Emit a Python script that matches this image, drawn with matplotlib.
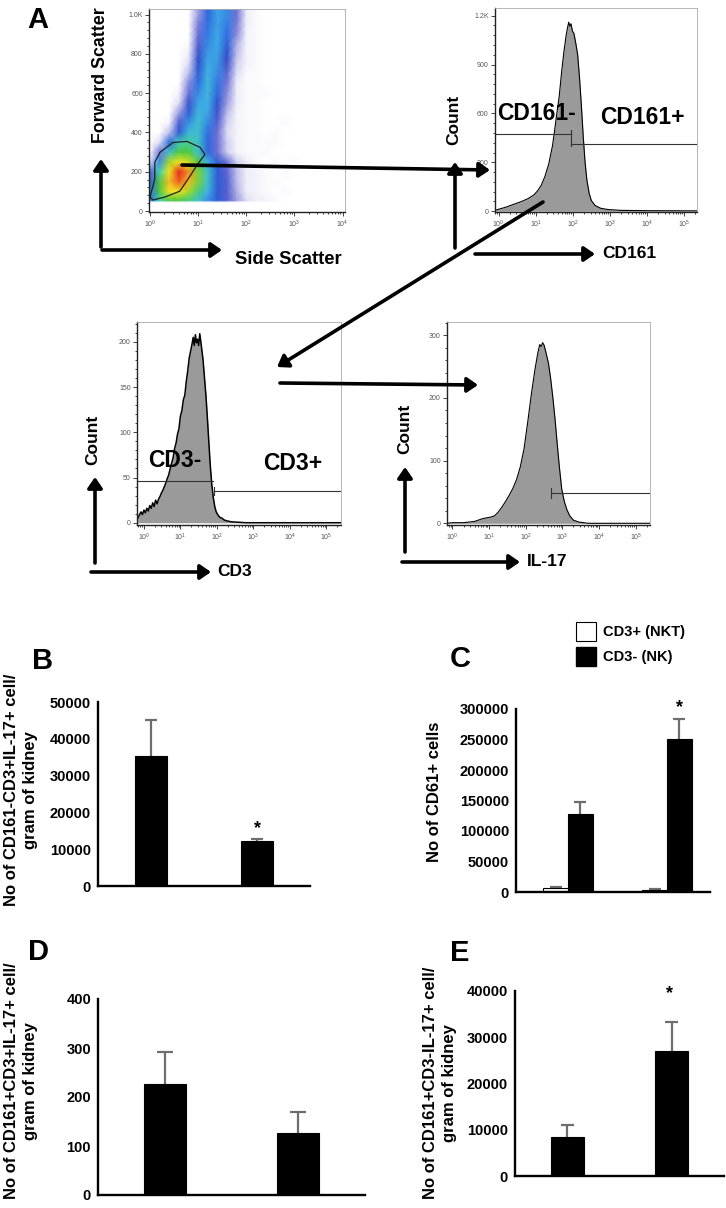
"""Flow gating (A) and kidney NK / NKT cell counts (B-E)."""

import matplotlib

matplotlib.use("Agg")
import matplotlib.pyplot as plt
import numpy as np
from matplotlib.colors import LinearSegmentedColormap
from matplotlib.patches import FancyArrowPatch, Patch
from matplotlib.ticker import AutoMinorLocator, LogLocator, NullFormatter

plt.rcParams["font.family"] = ["Liberation Sans", "DejaVu Sans"]

W, H = 726, 1208

# ---- panel A: side / forward scatter density (pseudocolour), log10 SSC x FSC ----
ssc_log = [0.0, 0.2, 0.4, 0.6, 0.8, 1.0, 1.2, 1.4, 1.6, 1.8, 2.0,
           2.2, 2.4, 2.6, 2.8, 3.0, 3.2, 3.4, 3.6, 3.8, 4.0]
fsc_levels = [45, 55, 100, 150, 200, 250, 300, 350, 400, 450, 500,
              550, 600, 650, 700, 750, 800, 850, 900, 950, 1000, 1050]
density = [
    [0] * 21,
    [3, 5, 6, 6, 5.5, 4.5, 3.5, 2.5, 1.5, .8, .4, .3, .2, .1, 0, 0, 0, 0, 0, 0, 0],
    [3, 6, 8, 8, 7, 5.5, 4, 2.5, 1.5, .7, .3, .2, .1, 0, .1, 0, 0, 0, 0, 0, 0],
    [2.5, 6, 8.5, 9.5, 8.5, 6.5, 4.5, 2.5, 1.5, .6, .3, .2, .1, .1, 0, 0, 0, 0, 0, 0, 0],
    [1.5, 5, 8, 10, 9, 6.5, 4.5, 2.5, 1.4, .6, .3, .2, .1, 0, .1, 0, 0, 0, 0, 0, 0],
    [.5, 3.5, 7, 8, 7.5, 6, 4, 2.5, 1.2, .5, .3, .1, 0, .1, 0, .1, 0, 0, 0, 0, 0],
    [0, 1.2, 4.5, 6, 6, 4.6, 2.8, 1.2, .5, .2, .1, .1, .1, 0, 0, 0, 0, 0, 0, 0, 0],
    [0, .4, 2.8, 4.8, 5.2, 4.5, 2.8, 1.2, .5, .2, .1, .1, .1, .1, 0, 0, 0, 0, 0, 0, 0],
    [0, 0, .6, 2.5, 4.2, 4.4, 3, 1.2, .4, .2, .1, .1, 0, .1, 0, 0, 0, 0, 0, 0, 0],
    [0, 0, .2, 1.6, 3.5, 4.4, 3.4, 1.5, .5, .2, .1, .1, 0, 0, .1, 0, 0, 0, 0, 0, 0],
    [0, 0, 0, .8, 2.6, 4.2, 3.8, 1.8, .6, .2, .1, .1, 0, 0, 0, 0, 0, 0, 0, 0, 0],
    [0, 0, 0, .4, 1.8, 3.8, 4, 2.3, .8, .3, .1, .1, 0, 0, 0, 0, 0, 0, 0, 0, 0],
    [0, 0, 0, .2, 1.2, 3.4, 4.2, 2.8, .9, .3, .1, .1, .1, 0, 0, 0, 0, 0, 0, 0, 0],
    [0, 0, 0, 0, .9, 3, 4.2, 3.1, 1.1, .3, .1, .1, 0, 0, 0, 0, 0, 0, 0, 0, 0],
    [0, 0, 0, 0, .6, 2.6, 4.1, 3.4, 1.4, .4, .1, .1, 0, 0, 0, 0, 0, 0, 0, 0, 0],
    [0, 0, 0, 0, .4, 2.2, 3.9, 3.6, 1.8, .5, .2, .1, 0, 0, 0, 0, 0, 0, 0, 0, 0],
    [0, 0, 0, 0, .3, 1.8, 3.7, 3.8, 2.2, .6, .2, .1, 0, 0, 0, 0, 0, 0, 0, 0, 0],
    [0, 0, 0, 0, .1, 1.5, 3.4, 3.9, 2.6, .7, .2, .1, 0, 0, 0, 0, 0, 0, 0, 0, 0],
    [0, 0, 0, 0, 0, 1.2, 3.2, 3.9, 3, .9, .2, .1, 0, 0, 0, 0, 0, 0, 0, 0, 0],
    [0, 0, 0, 0, 0, 1, 3, 3.8, 3.2, 1, .3, .1, 0, 0, 0, 0, 0, 0, 0, 0, 0],
    [0, 0, 0, 0, 0, .8, 2.8, 3.8, 3.4, 1.2, .3, .1, 0, 0, 0, 0, 0, 0, 0, 0, 0],
    [0, 0, 0, 0, 0, .8, 2.8, 3.8, 3.4, 1.2, .3, .1, 0, 0, 0, 0, 0, 0, 0, 0, 0],
]
gate_log = [0.0, 0.10, 0.10, 0.21, 0.48, 0.77, 1.04, 1.14, 0.99, 0.83, 0.62, 0.31, 0.06, 0.0]
gate_fsc = [71, 162, 248, 299, 349, 354, 324, 288, 238, 177, 101, 71, 56, 71]

# ---- panel A: histograms (log10 intensity, count) ----
cd161_log = [-0.1, 0.0, 0.2, 0.4, 0.6, 0.8, 0.95, 1.05, 1.15, 1.25, 1.35, 1.45, 1.5,
             1.55, 1.63, 1.7, 1.76, 1.82, 1.86, 1.89, 1.92, 1.95, 1.99, 2.03, 2.08,
             2.13, 2.18, 2.23, 2.28, 2.33, 2.38, 2.44, 2.5, 2.6, 2.75, 2.95, 3.3, 4.0, 5.35]
cd161_cnt = [5, 12, 25, 42, 58, 78, 100, 125, 160, 215, 290, 400, 480,
             570, 700, 860, 980, 1080, 1130, 1160, 1135, 1150, 1105, 1090, 1030,
             960, 820, 650, 460, 300, 190, 110, 65, 35, 18, 10, 5, 3, 2]

cd3_log = [-0.17, -0.12, -0.08, -0.04, 0.0, 0.04, 0.08, 0.12, 0.16, 0.2, 0.24, 0.28,
           0.32, 0.36, 0.4, 0.44, 0.48, 0.52, 0.56, 0.6, 0.64, 0.68, 0.72, 0.76,
           0.8, 0.84, 0.88, 0.92, 0.96, 1.0, 1.04, 1.08, 1.12, 1.16, 1.2, 1.24,
           1.28, 1.32, 1.35, 1.38, 1.41, 1.44, 1.47, 1.5, 1.53, 1.56, 1.59, 1.62,
           1.66, 1.7, 1.74, 1.78, 1.82, 1.86, 1.9, 1.94, 1.98, 2.02, 2.08, 2.14,
           2.2, 2.28, 2.4, 2.6, 2.8, 5.4]
cd3_cnt = [5, 9, 12, 9, 14, 11, 16, 13, 19, 16, 22, 18,
           25, 21, 26, 29, 33, 36, 40, 44, 49, 53, 60, 66,
           72, 82, 88, 98, 104, 118, 124, 136, 141, 156, 168, 182,
           190, 198, 205, 196, 208, 199, 203, 196, 209, 200, 190, 180,
           160, 140, 115, 88, 62, 42, 28, 18, 12, 9, 6, 5,
           3, 2, 1, 0.5, 0, 0]

il17_log = [-0.15, 0.0, 0.3, 0.6, 0.8, 0.95, 1.05, 1.15, 1.25, 1.35, 1.45, 1.55, 1.65,
            1.75, 1.85, 1.95, 2.05, 2.15, 2.25, 2.33, 2.38, 2.42, 2.46, 2.5, 2.56,
            2.62, 2.68, 2.74, 2.8, 2.86, 2.92, 2.98, 3.05, 3.12, 3.2, 3.3, 3.45, 3.7, 5.39]
il17_cnt = [0, 1, 1, 3, 7, 9, 10, 12, 18, 26, 35, 45, 56,
            70, 90, 118, 160, 205, 245, 272, 285, 282, 288, 284, 270,
            255, 230, 200, 165, 125, 88, 55, 35, 22, 12, 5, 2, 0, 0]

# ---- panels B-E: bar values (mean, upper error) ----
b_vals, b_err = [35300, 12200], [9800, 500]
c_nkt_vals, c_nkt_err = [7000, 4000], [1000, 1000]
c_nk_vals, c_nk_err = [127900, 250800], [19600, 32800]
d_vals, d_err = [226, 127], [66, 42]
e_vals, e_err = [8400, 27000], [2600, 6300]

fig = plt.figure(figsize=(W / 100, H / 100), dpi=100)


def fx(x):
    return x / W


def fy(y):
    return 1 - y / H


def px_axes(left, top, w, h):
    return fig.add_axes([left / W, 1 - (top + h) / H, w / W, h / H])


def arrow(x0, y0, x1, y1):
    fig.add_artist(FancyArrowPatch(
        (fx(x0), fy(y0)), (fx(x1), fy(y1)), transform=fig.transFigure,
        arrowstyle="-|>,head_length=0.32,head_width=0.22", mutation_scale=20,
        lw=2.6, color="black", shrinkA=0, shrinkB=0))


def label(x, y, s, size=12.5, rot=0, ha="left", va="center"):
    fig.text(fx(x), fy(y), s, fontsize=size, fontweight="bold", rotation=rot,
             ha=ha, va=va)


def style_flow(ax, xlim, ylim, yticks, ylabels):
    ax.set_xscale("log")
    ax.set_xlim(*xlim)
    ax.set_ylim(*ylim)
    ax.xaxis.set_major_locator(LogLocator(base=10, numticks=10))
    ax.xaxis.set_minor_locator(LogLocator(base=10, subs=np.arange(2, 10), numticks=20))
    ax.xaxis.set_minor_formatter(NullFormatter())
    ax.set_yticks(yticks, ylabels)
    ax.yaxis.set_minor_locator(AutoMinorLocator(5))
    ax.tick_params(which="both", direction="out", width=0.6, color="#222",
                   labelcolor="#555", labelsize=5, pad=1.5)
    ax.tick_params(which="major", length=3)
    ax.tick_params(which="minor", length=1.5)
    for s in ("top", "right"):
        ax.spines[s].set_color("#aaaaaa")
        ax.spines[s].set_linewidth(0.6)
    for s in ("left", "bottom"):
        ax.spines[s].set_color("#222222")
        ax.spines[s].set_linewidth(1.0)


def gate(ax, x0, x1, y, tick):
    ax.plot([10 ** x0, 10 ** x1], [y, y], color="#333", lw=0.8)
    ax.plot([10 ** x0, 10 ** x0], [y - tick, y + tick], color="#333", lw=0.8)


# scatter plot
ax = px_axes(149, 9, 196, 203)
cmap = LinearSegmentedColormap.from_list("flow", [
    (0.0, "#ffffff"), (0.03, "#ececf8"), (0.1, "#7a7ad8"), (0.2, "#3048c8"),
    (0.3, "#3070e2"), (0.4, "#40b0e6"), (0.5, "#3fd0b0"), (0.6, "#50c840"),
    (0.7, "#a8d82a"), (0.8, "#f2e421"), (0.9, "#f39025"), (1.0, "#e52a1e")])
Xg, Yg = np.meshgrid(10 ** np.array(ssc_log), fsc_levels)
ax.pcolormesh(Xg, Yg, np.array(density), cmap=cmap, vmin=0, vmax=10, shading="gouraud")
ax.plot(10 ** np.array(gate_log), gate_fsc, color="#222", lw=0.9)
style_flow(ax, (10 ** -0.02, 10 ** 4.05), (-5, 1028),
           [0, 200, 400, 600, 800, 1000], ["0", "200", "400", "600", "800", "1.0K"])

# CD161 histogram
ax = px_axes(495, 8, 202, 204)
ax.fill_between(10 ** np.array(cd161_log), cd161_cnt, color="#9a9a9a", lw=0)
ax.plot(10 ** np.array(cd161_log), cd161_cnt, color="black", lw=0.8)
gate(ax, -0.1, 1.95, 473, 0)
gate(ax, 1.95, 5.35, 412, 0)
ax.plot([10 ** 1.95] * 2, [398, 500], color="#333", lw=0.8)
style_flow(ax, (10 ** -0.1, 10 ** 5.35), (-5, 1247),
           [0, 300, 600, 900, 1200], ["0", "300", "600", "900", "1.2K"])

# CD3 histogram
ax = px_axes(137, 322, 204, 203)
ax.fill_between(10 ** np.array(cd3_log), cd3_cnt, color="#9a9a9a", lw=0)
ax.plot(10 ** np.array(cd3_log), cd3_cnt, color="black", lw=1.1)
gate(ax, -0.19, 1.9, 46, 0)
gate(ax, 1.93, 5.4, 35, 4)
style_flow(ax, (10 ** -0.19, 10 ** 5.4), (-2.5, 222),
           [0, 50, 100, 150, 200], ["0", "50", "100", "150", "200"])

# IL-17 histogram
ax = px_axes(447, 322, 203, 203)
ax.fill_between(10 ** np.array(il17_log), il17_cnt, color="#9a9a9a", lw=0)
ax.plot(10 ** np.array(il17_log), il17_cnt, color="black", lw=0.8)
gate(ax, 2.68, 5.39, 48, 8)
style_flow(ax, (10 ** -0.15, 10 ** 5.39), (-2.7, 321),
           [0, 100, 200, 300], ["0", "100", "200", "300"])

# gating arrows and labels
for a in [(101, 247, 101, 159), (102, 250, 222, 250), (182, 165, 490, 170),
          (455, 248, 455, 162), (475, 254, 595, 254), (543, 202, 277, 367),
          (280, 383, 478, 385), (95, 563, 95, 477), (91, 572, 211, 572),
          (405, 552, 405, 467), (402, 562, 520, 562)]:
    arrow(*a)

label(101, 143, "Forward Scatter", size=12.8, rot=90, ha="center", va="bottom")
label(235, 259, "Side Scatter", size=13.3)
label(454, 120, "Count", rot=90, ha="center")
label(93, 440, "Count", rot=90, ha="center")
label(405, 429, "Count", rot=90, ha="center")
label(602, 254, "CD161")
label(217, 572, "CD3")
label(527, 562, "IL-17")
label(497, 113, "CD161-", size=16.5)
label(600, 117, "CD161+", size=16.5)
label(148, 460, "CD3-", size=16.5)
label(263, 464, "CD3+", size=16.5)

for s, x, y in [("A", 38, 20), ("B", 43, 661), ("C", 460, 659), ("D", 38, 952), ("E", 460, 953)]:
    label(x, y, s, size=21, ha="center")


# ---- bar panels ----
def style_bar(ax, ylim, yticks, xlim):
    ax.set_xlim(*xlim)
    ax.set_ylim(*ylim)
    ax.set_yticks(yticks, [str(t) for t in yticks])
    ax.set_xticks([])
    for s in ("top", "right"):
        ax.spines[s].set_visible(False)
    for s in ("left", "bottom"):
        ax.spines[s].set_linewidth(1.7)
    ax.tick_params(axis="y", length=0, pad=5, labelsize=10.5)
    for lab in ax.get_yticklabels():
        lab.set_fontweight("bold")


def bars(ax, xs, vals, errs, width, fc):
    ax.bar(xs, vals, width=width, color=fc, edgecolor="black", lw=0.8, zorder=2)
    ax.vlines(xs, vals, np.add(vals, errs), color="#6e6e6e", lw=1.6, zorder=1)
    ax.hlines(np.add(vals, errs), np.subtract(xs, 0.12), np.add(xs, 0.12),
              color="#6e6e6e", lw=1.6, zorder=1)


def star(ax, x, y):
    ax.text(x, y, "*", fontsize=13, fontweight="bold", ha="center", va="center")


# B
ax = px_axes(98, 702, 212, 184)
bars(ax, [1, 3], b_vals, b_err, 0.6, "black")
style_bar(ax, (0, 50000), [0, 10000, 20000, 30000, 40000, 50000], (0, 4))
star(ax, 3, 15500)
fig.text(fx(21), fy(790), "No of CD161-CD3+IL-17+ cell/\ngram of kidney", rotation=90,
         ha="center", va="center", fontsize=12, fontweight="bold", linespacing=1.3)

# C
ax = px_axes(516, 709, 194, 183)
bars(ax, [0.75, 2.75], c_nkt_vals, c_nkt_err, 0.5, "white")
bars(ax, [1.25, 3.25], c_nk_vals, c_nk_err, 0.5, "black")
style_bar(ax, (0, 300000), [0, 50000, 100000, 150000, 200000, 250000, 300000], (-0.05, 3.87))
star(ax, 3.25, 301600)
fig.text(fx(434), fy(792), "No of CD61+ cells", rotation=90, ha="center", va="center",
         fontsize=12, fontweight="bold")
ax.legend(handles=[Patch(fc="white", ec="black", lw=0.8), Patch(fc="black", ec="black")],
          labels=["CD3+ (NKT)", "CD3- (NK)"], loc="upper left",
          bbox_to_anchor=(fx(576), fy(622)), bbox_transform=fig.transFigure,
          frameon=False, borderpad=0, borderaxespad=0, handlelength=1.37,
          handleheight=1.64, labelspacing=0.41, handletextpad=0.48,
          prop={"weight": "bold", "size": 10.5})

# D
ax = px_axes(98, 999, 267, 196)
bars(ax, [1, 3], d_vals, d_err, 0.63, "black")
style_bar(ax, (0, 400), [0, 100, 200, 300, 400], (0, 4))
fig.text(fx(21), fy(1081), "No of CD161+CD3+IL-17+ cell/\ngram of kidney", rotation=90,
         ha="center", va="center", fontsize=12, fontweight="bold", linespacing=1.3)

# E
ax = px_axes(515, 991, 209, 185)
bars(ax, [1, 3], e_vals, e_err, 0.63, "black")
style_bar(ax, (0, 40000), [0, 10000, 20000, 30000, 40000], (0, 4))
star(ax, 2.95, 39350)
fig.text(fx(440), fy(1083), "No of CD161+CD3-IL-17+ cell/\ngram of kidney", rotation=90,
         ha="center", va="center", fontsize=12, fontweight="bold", linespacing=1.3)

fig.savefig("out.png", dpi=100)
